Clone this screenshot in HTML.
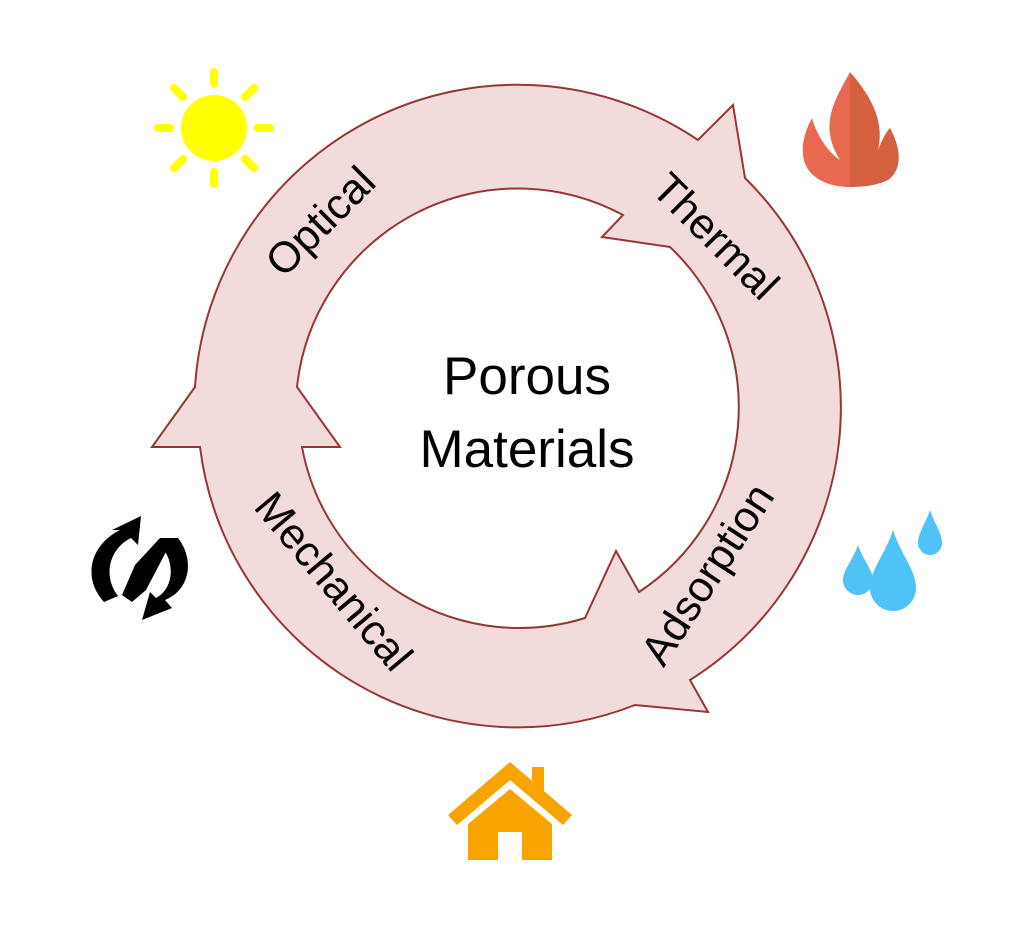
<!DOCTYPE html>
<html><head><meta charset="utf-8"><style>
html,body{margin:0;padding:0;background:#fff;}
svg{display:block;}
text{font-family:"Liberation Sans",sans-serif;fill:#000;}
</style></head><body>
<svg width="1024" height="927" viewBox="0 0 1024 927" xmlns="http://www.w3.org/2000/svg">
<!-- ring -->
<path fill="#f2dcdb" stroke="#953735" stroke-width="2" fill-rule="evenodd" stroke-linejoin="miter" d="
M745,178 A322,322 0 0 1 690,680 L708,712 L635,705 A320,320 0 0 1 200,447 L152,447 L195,387 A323,323 0 0 1 698,140 L733,105 Z
M670,247 A221,221 0 0 1 639,592 L616,551 L585,618 A221,221 0 0 1 302,447 L340,447 L297,387 A222,222 0 0 1 623,215 L602,237 Z"/>
<!-- labels -->
<text x="0" y="0" dy=".35em" font-size="43" text-anchor="middle" transform="translate(320,221) rotate(-45)">Optical</text>
<text x="0" y="0" dy=".35em" font-size="43" text-anchor="middle" transform="translate(716,236) rotate(45)">Thermal</text>
<text x="0" y="0" dy=".35em" font-size="43" text-anchor="middle" transform="translate(707,574) rotate(-57)">Adsorption</text>
<text x="0" y="0" dy=".35em" font-size="43" text-anchor="middle" transform="translate(334,581) rotate(50)">Mechanical</text>
<text x="527" y="394" font-size="53" text-anchor="middle">Porous</text>
<text x="527" y="467" font-size="53" text-anchor="middle">Materials</text>
<!-- sun -->
<g fill="#ffff00" stroke="#ffff00">
<circle cx="214" cy="128" r="33" stroke="none"/>
<g stroke-width="8" stroke-linecap="round">
<line x1="214" y1="72" x2="214" y2="84"/>
<line x1="214" y1="172" x2="214" y2="184"/>
<line x1="158" y1="128" x2="170" y2="128"/>
<line x1="258" y1="128" x2="270" y2="128"/>
<line x1="174" y1="88" x2="183" y2="97"/>
<line x1="245" y1="159" x2="254" y2="168"/>
<line x1="254" y1="88" x2="245" y2="97"/>
<line x1="183" y1="159" x2="174" y2="168"/>
</g></g>
<!-- flame -->
<path fill="#e8694f" d="M850,72 C835,100 818,125 840,160 C825,150 815,130 812,118 C800,140 800,160 810,172 C820,183 835,187 850,187 Z"/>
<path fill="#d4603f" d="M850,72 C870,95 885,120 878,150 C882,140 886,132 890,128 C902,150 902,170 888,180 C878,185 865,187 850,187 Z"/>
<!-- drops -->
<g fill="#4fc3f7">
<path d="M930,510 C925,525 918,533 918,543 A12,12 0 0 0 942,543 C942,533 935,525 930,510 Z"/>
<path d="M893,530 C885,555 870,570 870,588 A23,23 0 0 0 916,588 C916,570 901,555 893,530 Z"/>
<path d="M858,545 C853,560 843,570 843,580 A15,15 0 0 0 873,580 C873,570 863,560 858,545 Z"/>
</g>
<!-- recycle -->
<g fill="#000">
<path d="M112,530 L141,516 L138,545 L131,538 C110,548 102,575 118,596 L104,602 C82,578 90,545 120,530 Z"/>
<path d="M160,538 L178,538 C195,560 190,590 165,600 L172,608 L142,620 L150,592 L156,598 C175,588 175,560 160,545 Z"/>
<path d="M135,565 L160,538 L168,548 L146,590 L132,602 L122,595 Z"/>
</g>
<!-- house -->
<g fill="#f8a300">
<path d="M510,762 L572,815 L563,825 L510,780 L457,825 L448,815 Z"/>
<rect x="532" y="767" width="12" height="28"/>
<path d="M468,824 L510,789 L552,824 L552,860 L522,860 L522,832 L498,832 L498,860 L468,860 Z"/>
</g>
</svg>
</body></html>
